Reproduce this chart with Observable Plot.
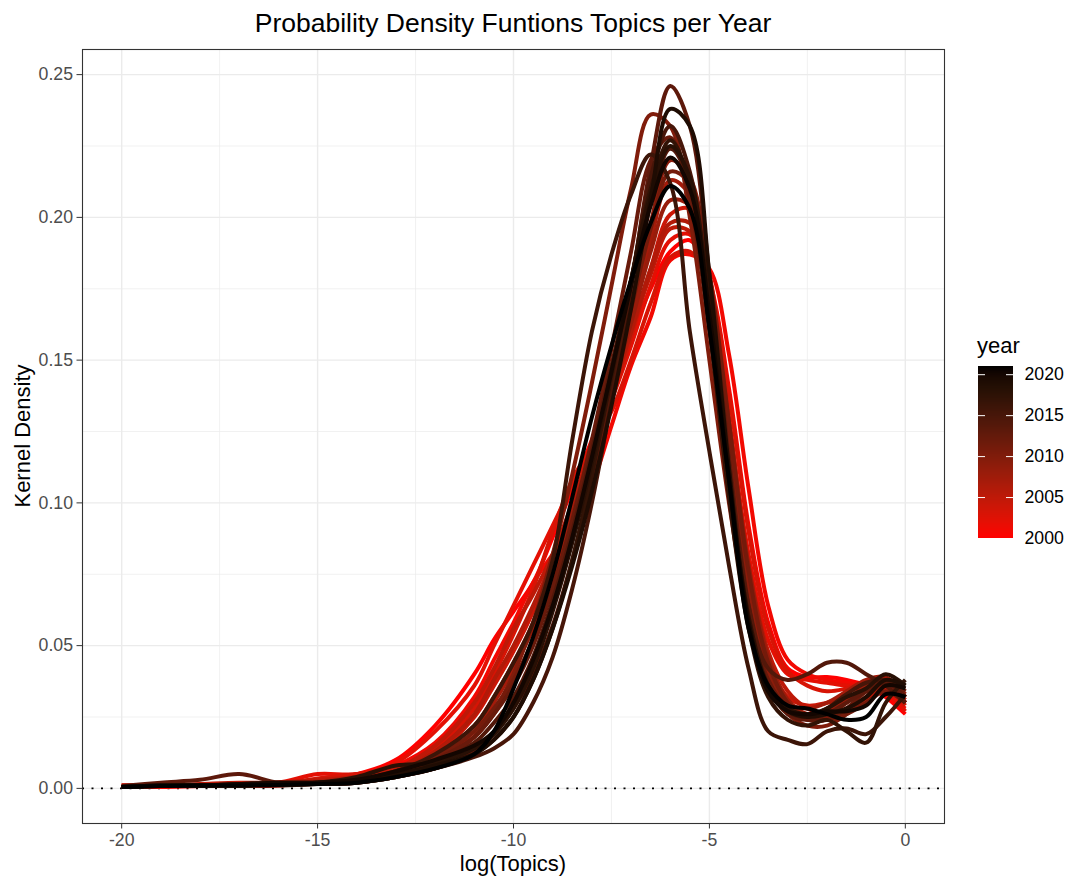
<!DOCTYPE html>
<html><head><meta charset="utf-8">
<script src="https://cdn.jsdelivr.net/npm/d3@7"></script>
<script src="https://cdn.jsdelivr.net/npm/@observablehq/plot@0.6"></script>
<style>
body{margin:0;background:#fff;font-family:"Liberation Sans",Arial,sans-serif;}
#wrap{position:relative;width:1066px;height:878px;overflow:hidden;}
#main{position:absolute;left:0;top:0;}
#title{position:absolute;left:0;width:1026px;top:8px;line-height:30px;text-align:center;font-size:26.5px;color:#000;white-space:nowrap;}
#xlab{position:absolute;left:0;width:1026px;top:851px;line-height:25px;text-align:center;font-size:22px;color:#000;}
#ylab{position:absolute;left:22px;top:436px;line-height:25px;transform:translate(-50%,-50%) rotate(-90deg);font-size:22px;color:#000;white-space:nowrap;}
#ltitle{position:absolute;left:977px;top:333px;line-height:25px;font-size:22px;color:#000;}
#legend{position:absolute;left:960px;top:340px;}
</style></head><body>
<div id="wrap">
<div id="main"></div>
<div id="title">Probability Density Funtions Topics per Year</div>
<div id="xlab">log(Topics)</div>
<div id="ylab">Kernel Density</div>
<div id="ltitle">year</div>
<div id="legend"></div>
</div>
<script>
// grid of log(Topics) values at which the densities were read
const xs = [-20,-19,-18,-17,-16,-15,-14,-13,-12,-11,-10.5,-10,-9.5,-9,-8.5,-8,-7.5,-7,-6.5,-6,-5.5,-5,-4.5,-4,-3.5,-3,-2.5,-2,-1.5,-1,-0.5,0];

const y2000 = [0.001,0.001,0.001,0.001,0.001,0.003,0.005,0.010,0.022,0.040,0.052,0.062,0.072,0.088,0.105,0.122,0.140,0.158,0.175,0.188,0.192,0.178,0.140,0.092,0.058,0.042,0.039,0.039,0.038,0.036,0.032,0.026];
const y2001 = [0.0005,0.0005,0.0008,0.001,0.0015,0.003,0.004,0.008,0.016,0.032,0.045,0.058,0.072,0.082,0.092,0.106,0.127,0.148,0.165,0.185,0.187,0.182,0.152,0.105,0.064,0.045,0.040,0.038,0.037,0.036,0.033,0.028];
const y2002 = [0.001,0.001,0.001,0.0015,0.002,0.005,0.005,0.009,0.020,0.036,0.050,0.064,0.078,0.092,0.106,0.120,0.136,0.155,0.176,0.192,0.194,0.172,0.128,0.082,0.052,0.040,0.038,0.037,0.036,0.036,0.034,0.027];
const y2003 = [0.0005,0.001,0.001,0.001,0.0015,0.0035,0.005,0.007,0.014,0.028,0.040,0.054,0.070,0.090,0.108,0.120,0.132,0.150,0.170,0.186,0.188,0.176,0.138,0.090,0.056,0.041,0.036,0.034,0.035,0.037,0.036,0.030];
const y2004 = [0.0005,0.001,0.001,0.001,0.002,0.003,0.004,0.006,0.012,0.025,0.036,0.048,0.062,0.080,0.098,0.116,0.136,0.158,0.182,0.201,0.203,0.180,0.130,0.078,0.045,0.032,0.029,0.030,0.032,0.034,0.035,0.029];
const y2005 = [0.001,0.001,0.0015,0.002,0.002,0.003,0.004,0.007,0.015,0.030,0.042,0.056,0.068,0.082,0.100,0.120,0.140,0.160,0.180,0.196,0.195,0.170,0.124,0.078,0.048,0.034,0.028,0.026,0.027,0.031,0.036,0.031];
const y2006 = [0.0005,0.001,0.001,0.0015,0.002,0.0025,0.004,0.006,0.013,0.026,0.038,0.050,0.064,0.080,0.098,0.118,0.138,0.160,0.182,0.198,0.198,0.174,0.126,0.076,0.044,0.030,0.025,0.024,0.027,0.032,0.036,0.030];
const y2007 = [0.0005,0.001,0.001,0.0015,0.002,0.002,0.003,0.005,0.010,0.020,0.030,0.042,0.056,0.074,0.094,0.116,0.140,0.166,0.192,0.213,0.208,0.175,0.122,0.072,0.042,0.030,0.028,0.030,0.034,0.038,0.039,0.032];
const y2008 = [0.0005,0.001,0.001,0.001,0.0015,0.002,0.003,0.006,0.012,0.022,0.032,0.044,0.058,0.076,0.096,0.118,0.140,0.163,0.188,0.206,0.204,0.176,0.128,0.078,0.046,0.031,0.026,0.027,0.031,0.036,0.037,0.030];
const y2009 = [0.0005,0.0008,0.001,0.001,0.0015,0.002,0.003,0.005,0.009,0.018,0.026,0.037,0.052,0.070,0.092,0.116,0.142,0.170,0.198,0.220,0.214,0.178,0.122,0.070,0.040,0.028,0.024,0.025,0.030,0.035,0.038,0.033];
const y2010 = [0.0005,0.001,0.001,0.001,0.0015,0.002,0.003,0.005,0.009,0.018,0.027,0.040,0.058,0.082,0.110,0.142,0.176,0.210,0.236,0.232,0.200,0.150,0.100,0.060,0.036,0.026,0.022,0.022,0.026,0.032,0.037,0.034];
const y2011 = [0.0005,0.001,0.001,0.0015,0.002,0.002,0.003,0.006,0.011,0.020,0.028,0.038,0.052,0.070,0.092,0.116,0.142,0.168,0.196,0.216,0.212,0.180,0.128,0.076,0.044,0.030,0.025,0.024,0.026,0.030,0.034,0.030];
const y2012 = [0.0005,0.001,0.001,0.001,0.0015,0.002,0.003,0.005,0.010,0.018,0.026,0.036,0.050,0.070,0.094,0.122,0.154,0.188,0.220,0.228,0.206,0.160,0.106,0.062,0.038,0.028,0.024,0.024,0.028,0.034,0.038,0.034];
const y2013 = [0.0008,0.002,0.003,0.005,0.002,0.0015,0.002,0.004,0.007,0.013,0.019,0.028,0.040,0.057,0.080,0.108,0.140,0.176,0.218,0.246,0.232,0.180,0.116,0.064,0.036,0.026,0.024,0.026,0.030,0.034,0.037,0.032];
const y2014 = [0.0005,0.001,0.001,0.0015,0.002,0.002,0.003,0.005,0.009,0.016,0.023,0.032,0.046,0.066,0.090,0.118,0.148,0.178,0.206,0.224,0.212,0.170,0.112,0.064,0.042,0.038,0.040,0.044,0.044,0.040,0.036,0.030];
const y2015 = [0.0005,0.001,0.001,0.001,0.001,0.0015,0.002,0.004,0.007,0.011,0.014,0.019,0.030,0.046,0.070,0.100,0.136,0.176,0.214,0.232,0.216,0.168,0.108,0.060,0.036,0.027,0.025,0.028,0.033,0.037,0.038,0.035];
const y2016 = [0.0005,0.001,0.001,0.001,0.0015,0.002,0.003,0.006,0.012,0.022,0.032,0.044,0.058,0.080,0.122,0.160,0.187,0.208,0.222,0.212,0.160,0.118,0.078,0.042,0.020,0.017,0.0155,0.020,0.021,0.019,0.025,0.033];
const y2017 = [0.0005,0.0008,0.001,0.001,0.0012,0.0015,0.002,0.004,0.007,0.012,0.017,0.025,0.038,0.056,0.080,0.110,0.144,0.178,0.210,0.227,0.212,0.162,0.102,0.056,0.032,0.024,0.022,0.024,0.020,0.016,0.030,0.038];
const y2018 = [0.0005,0.001,0.001,0.0015,0.0015,0.002,0.004,0.008,0.009,0.014,0.019,0.028,0.042,0.062,0.086,0.114,0.146,0.178,0.208,0.225,0.214,0.168,0.108,0.060,0.036,0.028,0.026,0.028,0.032,0.035,0.040,0.036];
const y2019 = [0.0005,0.001,0.001,0.001,0.0015,0.002,0.003,0.005,0.008,0.012,0.017,0.025,0.038,0.056,0.078,0.104,0.134,0.168,0.206,0.238,0.232,0.180,0.112,0.058,0.034,0.027,0.025,0.026,0.028,0.032,0.038,0.036];
const y2020 = [0.0005,0.001,0.001,0.0015,0.002,0.002,0.003,0.006,0.010,0.015,0.020,0.030,0.045,0.064,0.088,0.116,0.146,0.176,0.204,0.221,0.210,0.166,0.108,0.058,0.034,0.027,0.026,0.027,0.027,0.029,0.036,0.035];
const y2021 = [0.0005,0.0008,0.001,0.001,0.0012,0.0015,0.002,0.004,0.007,0.012,0.020,0.035,0.053,0.075,0.102,0.130,0.155,0.178,0.198,0.211,0.203,0.161,0.108,0.056,0.036,0.029,0.028,0.026,0.024,0.025,0.033,0.032];

const years = [2000,2001,2002,2003,2004,2005,2006,2007,2008,2009,2010,2011,2012,2013,2014,2015,2016,2017,2018,2019,2020,2021];
const densities = [y2000,y2001,y2002,y2003,y2004,y2005,y2006,y2007,y2008,y2009,y2010,y2011,y2012,y2013,y2014,y2015,y2016,y2017,y2018,y2019,y2020,y2021];

const xBreaks = [-20,-15,-10,-5,0];
const xMinor = [-17.5,-12.5,-7.5,-2.5];
const yBreaks = [0,0.05,0.10,0.15,0.20,0.25];
const yMinor = [0.025,0.075,0.125,0.175,0.225];
const legendBreaks = [2000,2005,2010,2015,2020];

const rows = [];
years.forEach((yr, j) => densities[j].forEach((v, i) => rows.push({year: yr, x: xs[i], y: v})));

const colorScale = {type: "linear", domain: [2000, 2021], range: ["red", "black"], interpolate: d3.interpolateLab};

const chart = Plot.plot({
  width: 1066, height: 878,
  marginLeft: 82, marginRight: 122, marginTop: 49, marginBottom: 55,
  style: {fontFamily: "Liberation Sans, Arial, sans-serif", fontSize: "17.7px", color: "#4D4D4D", background: "white"},
  x: {domain: [-21, 1]},
  y: {domain: [-0.0123, 0.2588]},
  color: colorScale,
  marks: [
    Plot.gridX(xMinor, {stroke: "#EBEBEB", strokeOpacity: 1, strokeWidth: 0.7}),
    Plot.gridY(yMinor, {stroke: "#EBEBEB", strokeOpacity: 1, strokeWidth: 0.7}),
    Plot.gridX(xBreaks, {stroke: "#EBEBEB", strokeOpacity: 1, strokeWidth: 1.4}),
    Plot.gridY(yBreaks, {stroke: "#EBEBEB", strokeOpacity: 1, strokeWidth: 1.4}),
    Plot.ruleY([0], {stroke: "black", strokeWidth: 1.6, strokeDasharray: "2,7.5"}),
    Plot.line(rows, {x: "x", y: "y", z: "year", stroke: "year", strokeWidth: 4, curve: "catmull-rom", strokeLinecap: "butt"}),
    Plot.frame({stroke: "#333333", strokeWidth: 1.1}),
    Plot.axisX(xBreaks, {tickSize: 5.5, tickPadding: 4, stroke: "#333333", fill: "#4D4D4D", tickFormat: d => String(d), label: null}),
    Plot.axisY(yBreaks, {tickSize: 5.5, tickPadding: 4, stroke: "#333333", fill: "#4D4D4D", tickFormat: d3.format(".2f"), label: null})
  ]
});
document.getElementById("main").appendChild(chart);

const step = 0.05;
const barStops = d3.range(2000, 2021, step);
const legend = Plot.plot({
  width: 106, height: 208,
  marginLeft: 18, marginRight: 53, marginTop: 26, marginBottom: 10,
  style: {fontFamily: "Liberation Sans, Arial, sans-serif", fontSize: "17.7px", color: "#000", background: "transparent"},
  x: {domain: [0, 1], axis: null},
  y: {domain: [2000, 2021]},
  color: colorScale,
  marks: [
    Plot.rect(barStops, {x1: 0, x2: 1, y1: d => d, y2: d => Math.min(2021, d + step * 2), fill: d => d, shapeRendering: "crispEdges"}),
    Plot.ruleY(legendBreaks, {x1: 0, x2: 0.2, stroke: "white", strokeWidth: 1}),
    Plot.ruleY(legendBreaks, {x1: 0.8, x2: 1, stroke: "white", strokeWidth: 1}),
    Plot.axisY(legendBreaks, {anchor: "right", tickSize: 0, tickPadding: 11, fill: "#000", label: null, tickFormat: d => String(d)})
  ]
});
document.getElementById("legend").appendChild(legend);
</script>
</body></html>
